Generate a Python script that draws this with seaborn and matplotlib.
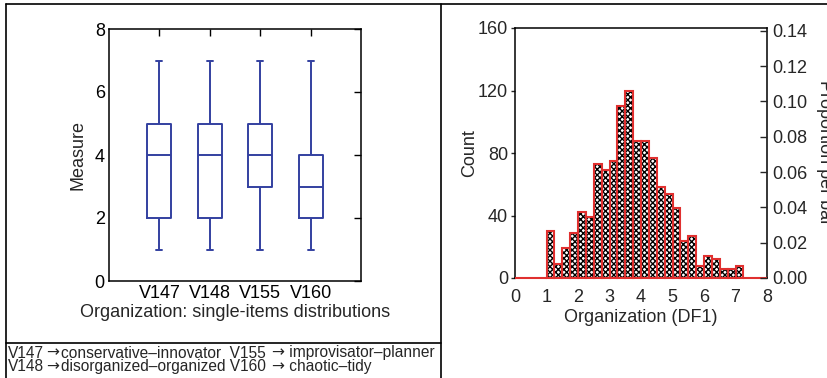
import numpy as np
import pandas as pd
import matplotlib
matplotlib.use("Agg")
import matplotlib.pyplot as plt
from matplotlib.lines import Line2D
import seaborn as sns

sns.set_theme(style="white")
plt.rcParams["font.family"] = ["Liberation Sans", "DejaVu Sans"]
plt.rcParams["hatch.linewidth"] = 1.0

# Single items: five-number summaries (min, Q1, median, Q3, max)
items = ["V147", "V148", "V155", "V160"]
v147 = [1, 2, 4, 5, 7]
v148 = [1, 2, 4, 5, 7]
v155 = [1, 3, 4, 5, 7]
v160 = [1, 2, 3, 4, 7]

# Organization (DF1) histogram: bin edges and counts per 0.25-wide bin
df1_edges = list(np.arange(0, 8.25, 0.25))
df1_counts = [0, 0, 0, 0,
              30, 9, 19, 29, 42, 39, 73, 69, 75, 110, 120, 88,
              88, 77, 58, 54, 45, 24, 27, 8, 14, 12, 6, 6, 8,
              0, 0, 0]

box_blue = "#3340a0"
hist_red = "#e0302f"
fs = 13

fig = plt.figure(figsize=(8.27, 3.78), dpi=100)

# ---- left panel: box plots -------------------------------------------
ax1 = fig.add_axes([109 / 827, 1 - 281 / 378, 252 / 827, 252 / 378])
long = pd.DataFrame({
    "item": np.repeat(items, 5),
    "value": v147 + v148 + v155 + v160,
})
sns.boxplot(data=long, x="item", y="value", ax=ax1, fill=False,
            color=box_blue, saturation=1, width=0.48, linewidth=1.4,
            capwidths=0.12)
ax1.set_xlim(-1.0, 4.0)
ax1.set_ylim(0, 8)
ax1.set_yticks([0, 2, 4, 6, 8])
ax1.set_xlabel("Organization: single-items distributions", fontsize=fs,
               labelpad=1)
ax1.set_ylabel("Measure", fontsize=fs, labelpad=6)
ax1.tick_params(axis="both", direction="in", length=5, width=1,
                labelsize=fs, top=True, right=True, colors="black",
                pad=3)
for s in ax1.spines.values():
    s.set_visible(True)
    s.set_color("black")
    s.set_linewidth(1.1)

# ---- right panel: histogram ------------------------------------------
ax2 = fig.add_axes([515 / 827, 1 - 278 / 378, 252 / 827, 250 / 378])
hist_df = pd.DataFrame({
    "score": [(a + b) / 2 for a, b in zip(df1_edges[:-1], df1_edges[1:])],
    "count": df1_counts,
})
sns.histplot(data=hist_df, x="score", weights="count", bins=df1_edges,
             ax=ax2, color="white", edgecolor="black", linewidth=0,
             hatch="xxxxxx", alpha=1)
sns.histplot(data=hist_df, x="score", weights="count", bins=df1_edges,
             ax=ax2, fill=False, color=hist_red, linewidth=1.5, alpha=1,
             zorder=3, clip_on=False)
ax2.set_xlim(0, 8)
ax2.set_ylim(0, 160)
ax2.set_xticks(range(0, 9))
ax2.set_yticks([0, 40, 80, 120, 160])
ax2.set_xlabel("Organization (DF1)", fontsize=fs, labelpad=2)
ax2.set_ylabel("Count", fontsize=fs, labelpad=0)
ax2.tick_params(axis="x", bottom=False, labelsize=fs, pad=2)
ax2.tick_params(axis="y", direction="out", length=3, width=1,
                labelsize=fs, pad=2)
for s in ax2.spines.values():
    s.set_visible(True)
    s.set_color("black")
    s.set_linewidth(1.1)
ax2.set_xticks(range(1, 8), minor=True)
ax2.tick_params(axis="x", which="major", top=False)
ax2.tick_params(axis="x", which="minor", top=True, bottom=False,
                direction="in", length=5, width=1)

ax3 = ax2.twinx()
total = sum(df1_counts)
ax3.set_ylim(0, 160 / total)
prop_ticks = [0.00, 0.02, 0.04, 0.06, 0.08, 0.10, 0.12, 0.14]
ax3.set_yticks(prop_ticks)
ax3.set_yticklabels([f"{t:.2f}" for t in prop_ticks])
ax3.tick_params(axis="y", direction="in", length=5, width=1,
                labelsize=fs, pad=4)
ax3.set_ylabel("Proportion per bar", fontsize=fs, rotation=270,
               labelpad=18)
ax3.grid(False)
for s in ax3.spines.values():
    s.set_visible(False)

# ---- frame lines and legend text -------------------------------------
def fline(x0, y0, x1, y1):
    fig.add_artist(Line2D([x0 / 827, x1 / 827], [1 - y0 / 378, 1 - y1 / 378],
                          color="black", linewidth=1.2))

fline(6, 4, 827, 4)
fline(6, 4, 6, 378)
fline(441, 4, 441, 378)
fline(6, 343, 441, 343)

renderer = fig.canvas.get_renderer()
W, H = fig.bbox.width, fig.bbox.height


def text_run(x_px, baseline_px, parts, size=11.2):
    """Write a line made of pieces, each in its own font family,
    leaving `gap` pixels after each piece."""
    x = x_px
    for s, fam, gap in parts:
        t = fig.text(x / W, 1 - baseline_px / H, s, fontsize=size,
                     family=fam, va="baseline", ha="left")
        x = t.get_window_extent(renderer).x1 + gap
    return x


sans = "Liberation Sans"
arrow = "DejaVu Sans"
text_run(8, 357.5, [("V147", sans, 2), ("\u2192", arrow, 2),
                    ("conservative\u2013innovator  V155 ", sans, 1),
                    ("\u2192", arrow, 1), (" improvisator\u2013planner", sans, 0)])
text_run(8, 370.8, [("V148", sans, 2), ("\u2192", arrow, 2),
                    ("disorganized\u2013organized V160 ", sans, 1),
                    ("\u2192", arrow, 1), (" chaotic\u2013tidy", sans, 0)])

fig.savefig("out.png", dpi=100, facecolor="white")
